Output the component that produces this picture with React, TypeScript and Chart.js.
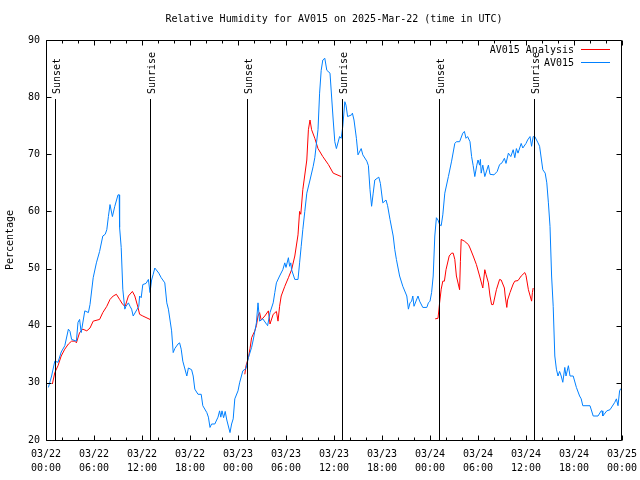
import React, { useEffect, useRef } from "react";
import { Chart, registerables } from "chart.js";

Chart.register(...registerables);

const TITLE = "Relative Humidity for AV015 on 2025-Mar-22 (time in UTC)";
const Y_TITLE = "Percentage";
const X_TICK_DATES = ["03/22", "03/22", "03/22", "03/22", "03/23", "03/23", "03/23", "03/23", "03/24", "03/24", "03/24", "03/24", "03/25"];
const X_TICK_TIMES = ["00:00", "06:00", "12:00", "18:00", "00:00", "06:00", "12:00", "18:00", "00:00", "06:00", "12:00", "18:00", "00:00"];
const SUN_LABELS = ["Sunset", "Sunrise", "Sunset", "Sunrise", "Sunset", "Sunrise"];
const SUN_HOURS = [1.13, 13.04, 25.16, 37.04, 49.16, 60.96];
const SUN_LINE_TOP = 79.7;
const LEGEND_LABELS = ["AV015 Analysis", "AV015"];

// hours since 03/22 00:00 UTC
const blueHours = [
  0.3, 0.7, 1.1, 1.5, 1.9, 2.35, 2.8, 3.0, 3.2, 3.8, 4.0, 4.2, 4.4, 4.85, 5.3, 5.5, 5.9, 6.3, 6.7, 7.1,
  7.4, 7.6, 7.8, 8.0, 8.3, 8.6, 9.0, 9.15, 9.2, 9.4, 9.6, 9.85, 10.0, 10.3, 10.5, 10.7, 10.9, 11.4, 11.6, 11.7,
  11.9, 12.1, 12.5, 12.8, 13.0, 13.2, 13.4, 13.6, 14.1, 14.4, 14.85, 15.1, 15.3, 15.7, 15.9, 16.1, 16.5, 16.7, 16.9, 17.1,
  17.6, 17.8, 18.2, 18.4, 18.6, 19.0, 19.4, 19.6, 20.1, 20.3, 20.5, 20.7, 21.1, 21.5, 21.7, 21.85, 22.0, 22.2, 22.4, 22.6,
  23.0, 23.2, 23.4, 23.6, 24.0, 24.2, 24.6, 25.0, 25.3, 25.7, 25.9, 26.3, 26.5, 26.7, 27.1, 27.6, 27.7, 28.0, 28.4, 28.6,
  28.8, 29.2, 29.6, 29.85, 30.0, 30.3, 30.45, 30.6, 30.7, 31.1, 31.5, 31.7, 31.9, 32.1, 32.35, 32.6, 33.0, 33.4, 33.6, 34.0,
  34.2, 34.4, 34.6, 34.85, 35.1, 35.5, 35.9, 36.1, 36.3, 36.7, 36.9, 37.1, 37.35, 37.5, 37.7, 38.2, 38.3, 38.5, 38.8, 39.0,
  39.4, 39.6, 40.1, 40.3, 40.5, 40.7, 40.9, 41.1, 41.6, 41.8, 42.1, 42.5, 42.7, 43.0, 43.4, 43.6, 43.8, 44.2, 44.6, 45.1,
  45.3, 45.5, 45.7, 45.85, 46.0, 46.5, 46.7, 47.1, 47.6, 47.8, 48.0, 48.2, 48.4, 48.6, 48.8, 49.0, 49.2, 49.4, 49.6, 49.85,
  50.3, 50.7, 51.1, 51.3, 51.7, 52.1, 52.3, 52.5, 52.7, 53.0, 53.2, 53.4, 53.6, 53.85, 54.0, 54.2, 54.3, 54.4, 54.6, 54.85,
  55.3, 55.5, 56.0, 56.4, 56.7, 57.0, 57.3, 57.5, 57.8, 58.1, 58.4, 58.6, 58.8, 59.0, 59.4, 59.6, 60.0, 60.2, 60.5, 60.7,
  60.9, 61.1, 61.5, 61.7, 62.1, 62.4, 62.6, 62.8, 63.0, 63.2, 63.4, 63.6, 63.8, 64.0, 64.2, 64.4, 64.6, 64.85, 65.0, 65.3,
  65.5, 65.9, 66.3, 66.7, 66.9, 67.1, 68.0, 68.4, 69.0, 69.4, 69.5, 69.6, 70.1, 70.5, 71.1, 71.3, 71.5, 71.7, 71.85,
];
const blueValues = [
  29.2, 31.2, 33.8, 33.6, 35.4, 36.5, 39.4, 39.0, 37.6, 37.3, 40.6, 41.1, 38.8, 42.6, 42.3, 43.7, 48.4, 51.0, 53.0, 55.7,
  56.0, 56.8, 59.1, 61.2, 59.1, 60.9, 62.9, 62.9, 57.2, 53.7, 46.4, 42.9, 43.4, 44.0, 43.4, 42.9, 41.7, 42.9, 43.4, 45.2,
  44.9, 47.2, 47.4, 48.1, 45.8, 48.0, 49.0, 50.1, 49.2, 48.4, 47.5, 44.0, 42.9, 39.1, 35.3, 36.0, 36.8, 37.0, 35.9, 33.8,
  31.2, 32.6, 32.3, 31.2, 28.9, 28.0, 28.0, 26.0, 24.8, 24.0, 22.2, 22.8, 22.8, 24.0, 25.1, 24.0, 25.1, 23.9, 25.0, 23.5,
  21.3, 22.8, 23.7, 27.2, 28.6, 30.0, 32.1, 32.5, 34.4, 36.2, 37.5, 40.5, 44.0, 40.8, 41.2, 40.2, 40.0, 42.3, 44.0, 45.8,
  47.5, 48.7, 49.8, 51.0, 50.2, 51.9, 50.4, 51.0, 49.8, 48.1, 48.1, 51.0, 53.9, 56.8, 60.0, 63.2, 65.5, 67.9, 69.4, 74.3,
  80.7, 84.7, 86.5, 86.8, 84.7, 84.2, 76.0, 72.2, 71.0, 73.1, 72.8, 74.9, 79.2, 78.6, 76.6, 76.9, 77.2, 76.0, 72.8, 69.9,
  71.0, 69.9, 68.8, 68.0, 63.8, 60.9, 63.2, 65.5, 66.0, 64.9, 61.5, 62.0, 61.0, 58.6, 55.7, 53.3, 51.6, 48.7, 46.9, 45.2,
  42.9, 44.0, 44.3, 45.2, 43.4, 45.2, 44.3, 43.2, 43.2, 44.0, 44.3, 45.8, 48.7, 55.7, 58.9, 58.5, 57.7, 57.5, 59.4, 63.2,
  66.1, 68.8, 71.9, 72.2, 72.2, 73.7, 74.0, 72.8, 73.1, 72.2, 69.6, 68.0, 66.1, 68.1, 69.0, 68.1, 69.1, 66.7, 68.1, 66.1,
  68.1, 66.5, 66.4, 67.0, 68.2, 68.5, 69.3, 68.4, 70.2, 69.6, 70.8, 69.4, 71.0, 70.2, 71.9, 71.1, 71.9, 72.5, 73.1, 71.4,
  73.1, 73.1, 72.0, 71.4, 67.3, 66.7, 65.0, 61.5, 57.4, 48.7, 43.4, 34.7, 32.4, 31.2, 32.0, 31.2, 30.1, 32.7, 31.2, 33.0,
  31.2, 31.2, 29.2, 27.7, 27.2, 26.0, 26.0, 24.2, 24.2, 25.1, 25.1, 24.2, 25.1, 25.3, 26.6, 27.2, 26.0, 28.6, 29.0,
];

const redHours = [
  0.8, 1.1, 1.5, 1.9, 2.35, 2.8, 3.2, 3.6, 3.8, 4.2, 4.6, 5.1, 5.5, 5.9, 6.7, 7.1, 7.6, 8.0, 8.4, 8.8,
  9.2, 9.6, 9.9, 10.3, 10.8, 11.1, 11.5, 11.7, 12.1, 13.0,
  18.0,
  24.85, 25.0, 25.3, 25.5, 25.7, 26.1, 26.3, 26.5, 26.7, 26.9, 27.35, 27.8, 28.0, 28.4, 28.8, 29.0, 29.2, 29.4, 29.85,
  30.3, 30.7, 31.1, 31.5, 31.7, 31.85, 32.1, 32.6, 32.8, 33.0, 33.2, 33.6, 34.0, 34.6, 35.3, 35.9, 36.9,
  43.0,
  48.65, 49.0, 49.2, 49.4, 49.6, 49.8, 50.0, 50.4, 50.7, 50.9, 51.1, 51.3, 51.7, 51.8, 51.9, 52.3, 52.8, 53.0, 53.4, 53.8,
  54.2, 54.6, 54.85, 55.0, 55.3, 55.5, 55.7, 55.9, 56.3, 56.7, 56.9, 57.3, 57.4, 57.6, 57.7, 58.0, 58.4, 58.6, 59.0, 59.4,
  59.85, 60.0, 60.3, 60.7, 60.8, 60.9,
];
const redValues = [
  29.8, 31.8, 33.0, 34.7, 35.9, 36.8, 37.3, 37.3, 37.0, 38.8, 39.4, 39.1, 39.6, 40.8, 41.1, 42.3, 43.4, 44.6, 45.2, 45.5,
  44.6, 43.7, 43.4, 45.2, 46.0, 45.2, 43.2, 42.0, 41.7, 41.1,
  null,
  31.5, 33.0, 34.4, 36.0, 37.9, 39.1, 40.0, 41.7, 42.3, 41.0, 41.7, 42.6, 40.3, 42.0, 42.5, 40.8, 43.4, 45.2, 46.9,
  48.4, 49.8, 52.2, 55.9, 60.0, 59.5, 63.8, 69.0, 74.3, 76.0, 74.3, 72.8, 71.0, 69.6, 68.2, 66.7, 66.1,
  null,
  41.2, 41.3, 44.0, 46.4, 47.8, 47.8, 49.8, 52.2, 52.7, 52.7, 51.6, 48.7, 46.3, 51.2, 55.1, 54.8, 54.2, 53.6, 52.2, 50.7,
  48.7, 46.6, 49.8, 49.0, 47.5, 45.2, 43.7, 43.7, 46.3, 48.1, 48.0, 46.6, 45.2, 43.2, 44.5, 45.8, 47.3, 47.8, 47.9, 48.7,
  49.3, 48.8, 46.3, 44.3, 45.8, 46.6,
];

const RED = "#ff0000";
const BLUE = "#0080ff";
const FONT_FAMILY = "'DejaVu Sans Mono', 'Liberation Mono', monospace";
const FONT = `10px ${FONT_FAMILY}`;

const decorPlugin = {
  id: "decor",
  afterDatasetsDraw(chart: any) {
    const { ctx, chartArea: a, scales } = chart;
    const xs = scales.x;
    const ys = scales.y;
    ctx.save();
    ctx.strokeStyle = "#000";
    ctx.fillStyle = "#000";
    ctx.lineWidth = 1;
    ctx.font = FONT;

    // sunrise / sunset markers
    const lineTop = Math.round(ys.getPixelForValue(SUN_LINE_TOP));
    SUN_HOURS.forEach((h, i) => {
      const px = Math.round(xs.getPixelForValue(h)) + 0.5;
      ctx.beginPath();
      ctx.moveTo(px, lineTop);
      ctx.lineTo(px, a.bottom);
      ctx.stroke();
      ctx.save();
      ctx.translate(px + 4.5, lineTop - 5);
      ctx.rotate(-Math.PI / 2);
      ctx.textAlign = "left";
      ctx.textBaseline = "alphabetic";
      ctx.fillText(SUN_LABELS[i], 0, 0);
      ctx.restore();
    });

    // frame
    const L = Math.round(a.left) + 0.5;
    const R = Math.round(a.right) - 0.5;
    const T = Math.round(a.top) + 0.5;
    const B = Math.round(a.bottom) + 0.5;
    ctx.beginPath();
    ctx.rect(L, T, R - L, B - T);
    ctx.stroke();

    // inward ticks
    ctx.beginPath();
    for (let v = 20; v <= 90; v += 10) {
      const py = Math.round(ys.getPixelForValue(v)) + 0.5;
      ctx.moveTo(L, py);
      ctx.lineTo(L + 5, py);
      ctx.moveTo(R, py);
      ctx.lineTo(R - 5, py);
    }
    for (let h = 0; h <= 72; h += 2) {
      const px = Math.round(xs.getPixelForValue(h)) + 0.5;
      const len = h % 6 === 0 ? 5 : 3;
      ctx.moveTo(px, B);
      ctx.lineTo(px, B - len);
      ctx.moveTo(px, T);
      ctx.lineTo(px, T + len);
    }
    ctx.stroke();

    // title
    ctx.textAlign = "center";
    ctx.textBaseline = "middle";
    ctx.fillText(TITLE, (a.left + a.right) / 2, 19);

    // legend
    const colors = [RED, BLUE];
    LEGEND_LABELS.forEach((lab, i) => {
      const y = 50 + i * 13;
      ctx.fillStyle = "#000";
      ctx.textAlign = "right";
      ctx.textBaseline = "middle";
      ctx.fillText(lab, 574, y);
      ctx.strokeStyle = colors[i];
      ctx.beginPath();
      ctx.moveTo(581, y - 0.5);
      ctx.lineTo(610, y - 0.5);
      ctx.stroke();
    });
    ctx.restore();
  },
};

export default function App() {
  const canvasRef = useRef<HTMLCanvasElement | null>(null);

  useEffect(() => {
    const canvas = canvasRef.current;
    if (!canvas) return;
    const bluePts = blueHours.map((h, i) => ({ x: h, y: blueValues[i] }));
    const redPts = redHours.map((h, i) => ({ x: h, y: redValues[i] }));
    const chart = new Chart(canvas, {
      type: "line",
      data: {
        datasets: [
          {
            label: "AV015",
            data: bluePts,
            borderColor: BLUE,
            backgroundColor: BLUE,
            borderWidth: 1,
            pointRadius: 0,
            tension: 0,
            spanGaps: false,
          },
          {
            label: "AV015 Analysis",
            data: redPts as any,
            borderColor: RED,
            backgroundColor: RED,
            borderWidth: 1,
            pointRadius: 0,
            tension: 0,
            spanGaps: false,
          },
        ],
      },
      options: {
        animation: false,
        responsive: true,
        maintainAspectRatio: false,
        layout: { padding: { top: 40, right: 18, bottom: 0, left: 0 } },
        plugins: {
          legend: { display: false },
          title: { display: false },
          tooltip: { enabled: false },
        },
        scales: {
          x: {
            type: "linear",
            min: 0,
            max: 72,
            grid: { display: false, drawTicks: false },
            border: { display: false },
            afterFit: (s: any) => {
              s.height = 40;
              s.paddingLeft = 0;
              s.paddingRight = 0;
            },
            ticks: {
              stepSize: 6,
              padding: 7,
              maxRotation: 0,
              autoSkip: false,
              color: "#000",
              font: { family: FONT_FAMILY, size: 10, lineHeight: 1.4 },
              callback: (v: any) => {
                const i = Math.round(Number(v) / 6);
                return [X_TICK_DATES[i], X_TICK_TIMES[i]];
              },
            },
          },
          y: {
            type: "linear",
            min: 20,
            max: 90,
            grid: { display: false, drawTicks: false },
            border: { display: false },
            afterFit: (s: any) => {
              s.width = 46;
              s.paddingTop = 0;
              s.paddingBottom = 0;
            },
            title: {
              display: true,
              text: Y_TITLE,
              color: "#000",
              font: { family: FONT_FAMILY, size: 10, lineHeight: 1.2 },
              padding: { top: 4, bottom: 0 },
            },
            ticks: {
              stepSize: 10,
              padding: 6,
              color: "#000",
              font: { family: FONT_FAMILY, size: 10 },
            },
          },
        },
      },
      plugins: [decorPlugin],
    });
    return () => chart.destroy();
  }, []);

  return (
    <div style={{ position: "absolute", left: 0, top: 0, width: 640, height: 480, background: "#fff" }}>
      <canvas ref={canvasRef} />
    </div>
  );
}
